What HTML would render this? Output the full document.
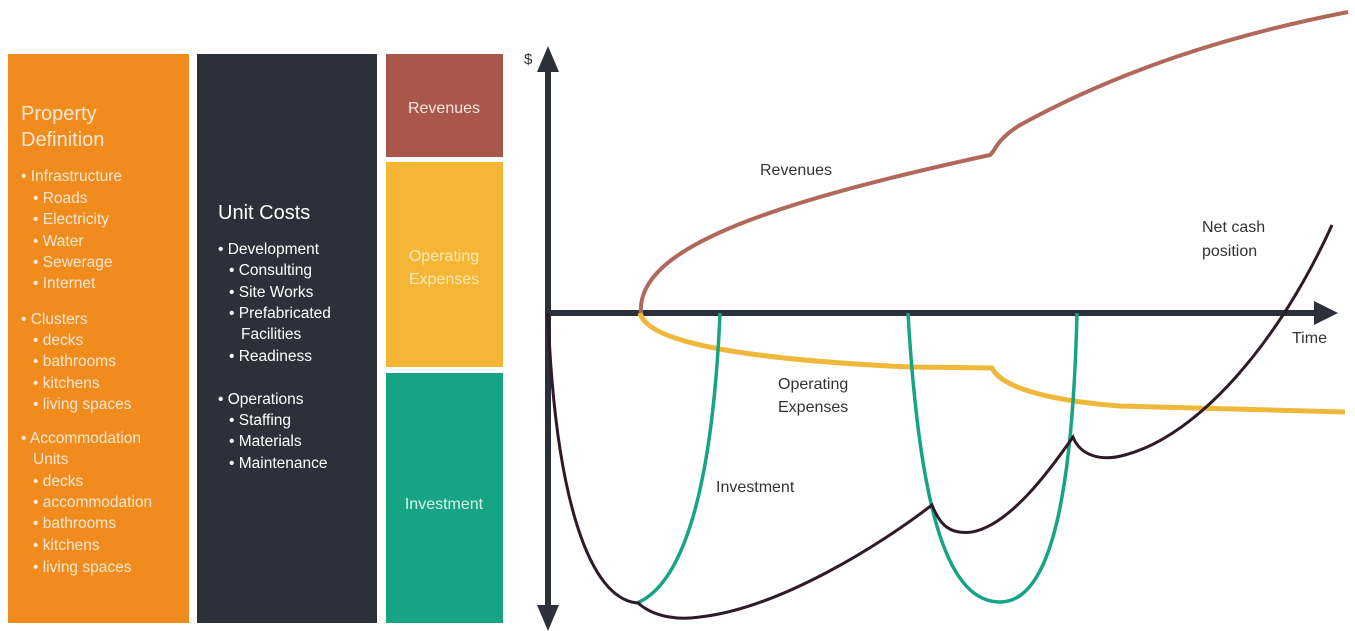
<!DOCTYPE html>
<html><head><meta charset="utf-8"><style>
html,body{margin:0;padding:0;background:#fff;width:1355px;height:631px;overflow:hidden}
text{font-family:"Liberation Sans",sans-serif}
</style></head><body>
<svg width="1355" height="631" viewBox="0 0 1355 631" xmlns="http://www.w3.org/2000/svg">
<rect x="8" y="54" width="181" height="569" fill="#f08c1e"/>
<rect x="197" y="54" width="180" height="569" fill="#2b303a"/>
<rect x="386" y="54" width="117" height="103" fill="#a9574a"/>
<rect x="386" y="162" width="117" height="205" fill="#f5b535"/>
<rect x="386" y="373" width="117" height="250" fill="#17a484"/>
<g fill="#fde7d0" font-size="20">
<text x="21" y="120">Property</text><text x="21" y="146">Definition</text>
</g>
<g fill="#fde7d0" font-size="15.5">
<text x="21" y="181">• Infrastructure</text>
<text x="33" y="203">• Roads</text>
<text x="33" y="224">• Electricity</text>
<text x="33" y="246">• Water</text>
<text x="33" y="267">• Sewerage</text>
<text x="33" y="288">• Internet</text>
<text x="21" y="324">• Clusters</text>
<text x="33" y="345">• decks</text>
<text x="33" y="366">• bathrooms</text>
<text x="33" y="388">• kitchens</text>
<text x="33" y="409">• living spaces</text>
<text x="21" y="443">• Accommodation</text>
<text x="33" y="464">Units</text>
<text x="33" y="486">• decks</text>
<text x="33" y="507">• accommodation</text>
<text x="33" y="528">• bathrooms</text>
<text x="33" y="550">• kitchens</text>
<text x="33" y="572">• living spaces</text>
</g>
<text x="218" y="219" fill="#fff" font-size="20">Unit Costs</text>
<g fill="#fff" font-size="15.5">
<text x="218" y="254">• Development</text>
<text x="229" y="275">• Consulting</text>
<text x="229" y="297">• Site Works</text>
<text x="229" y="318">• Prefabricated</text>
<text x="241" y="339">Facilities</text>
<text x="229" y="361">• Readiness</text>
<text x="218" y="404">• Operations</text>
<text x="229" y="425">• Staffing</text>
<text x="229" y="446">• Materials</text>
<text x="229" y="468">• Maintenance</text>
</g>
<g font-size="16" text-anchor="middle">
<text x="444" y="113" fill="#fbe6e0">Revenues</text>
<text x="444" y="261" fill="#fde9b8">Operating</text>
<text x="444" y="284" fill="#fde9b8">Expenses</text>
<text x="444" y="509" fill="#d8f5ec">Investment</text>
</g>
<g fill="#2b303a" stroke="none">
<rect x="545" y="60" width="6" height="558"/>
<polygon points="548,46 537,72 559,72"/>
<polygon points="548,631 537,605 559,605"/>
<rect x="548" y="310" width="778" height="6"/>
<polygon points="1338,313 1314,301 1314,325"/>
</g>
<text x="524" y="64" font-size="15" fill="#333">$</text>
<path d="M641,313 C636,250 760,205 990,155 C996,150 996,140 1020,125 C1120,70 1230,35 1348,12" fill="none" stroke="#b0685a" stroke-width="4"/>
<path d="M640,313 C648,345 760,360 910,367 L992,368 C1000,385 1040,400 1120,406 L1345,412" fill="none" stroke="#f0b83a" stroke-width="5"/>
<path d="M637,603 C680,585 712,500 720,313" fill="none" stroke="#17a484" stroke-width="3.5"/>
<path d="M908,313 C920,520 950,602 1000,602 C1045,602 1072,520 1077,313" fill="none" stroke="#17a484" stroke-width="3.5"/>
<path d="M548,313 C555,500 590,600 638,603 C655,618 680,620 700,617 C780,608 880,545 932,505 C940,525 950,535 972,532 C1010,525 1050,470 1073,437 C1080,455 1100,462 1125,455 C1200,435 1280,340 1332,225" fill="none" stroke="#2e1a28" stroke-width="3"/>
<g font-size="16" fill="#333">
<text x="760" y="175">Revenues</text>
<text x="1202" y="232">Net cash</text>
<text x="1202" y="256">position</text>
<text x="1292" y="343">Time</text>
<text x="778" y="389">Operating</text>
<text x="778" y="412">Expenses</text>
<text x="716" y="492">Investment</text>
</g>
</svg>
</body></html>
